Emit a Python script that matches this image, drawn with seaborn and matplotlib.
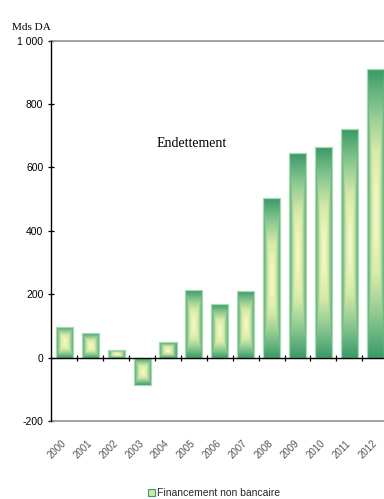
import numpy as np
import matplotlib
matplotlib.use("Agg")
import matplotlib.pyplot as plt
from matplotlib.colors import LinearSegmentedColormap
from matplotlib.patches import Patch
from matplotlib.ticker import FixedLocator, FuncFormatter
import seaborn as sns

# Financement non bancaire, Mds DA
years = ["2000", "2001", "2002", "2003", "2004", "2005", "2006",
         "2007", "2008", "2009", "2010", "2011", "2012"]
values = [98, 76, 25, -85, 50, 212, 168, 209, 503, 645, 665, 721, 910]
y_ticks = [-200, 0, 200, 400, 600, 800, 1000]

sns.set_theme(style="white")
plt.rcParams["font.family"] = ["Liberation Sans", "DejaVu Sans"]

fig = plt.figure(figsize=(3.84, 4.99), dpi=100, facecolor="white")
ax = fig.add_axes([0.1328, 0.1563, 0.8672, 0.7625])
ax.set_facecolor("white")

sns.barplot(x=years, y=values, width=0.66, color="#3d9b6b", saturation=1,
            errorbar=None, ax=ax, zorder=2)

# path gradient fill: pale yellow core fading to green at the edges
cmap = LinearSegmentedColormap.from_list(
    "fin", ["#f8f8c6", "#d6eaa8", "#86c58e", "#3a9a69"])
n = 200
gx = np.abs(np.linspace(-1, 1, n))[None, :]
gy = np.abs(np.linspace(-1, 1, n))[:, None]
for bar in list(ax.patches):
    x0, y0 = bar.get_x(), bar.get_y()
    w, h = bar.get_width(), bar.get_height()
    ylo, yhi = min(y0, y0 + h), max(y0, y0 + h)
    grad = np.maximum(gx, gy) ** 1.3
    im = ax.imshow(grad, extent=[x0, x0 + w, ylo, yhi], origin="lower",
                   aspect="auto", cmap=cmap, vmin=0, vmax=1, zorder=2,
                   interpolation="bilinear")
    im.set_clip_path(bar)
    bar.set_facecolor("none")
    bar.set_edgecolor("#a9dbb2")
    bar.set_linewidth(0.9)
    bar.set_zorder(3)

ax.set_xlim(-0.52, 12.34)
ax.set_ylim(-200, 1000)
ax.set_xlabel("")
ax.set_ylabel("")

# y axis
ax.set_yticks(y_ticks)
ax.yaxis.set_major_formatter(FuncFormatter(
    lambda v, p: f"{int(v):,}".replace(",", " ")))
ax.tick_params(axis="y", which="major", direction="inout", length=5,
               width=0.9, color="black", labelsize=7.5, pad=3,
               labelcolor="black", left=True)

# year labels along the bottom
ax.tick_params(axis="x", which="major", length=0, labelsize=7, pad=15,
               labelcolor="#555555")
for lab in ax.get_xticklabels():
    lab.set_rotation(45)
    lab.set_ha("right")
    lab.set_va("center")
    lab.set_rotation_mode("anchor")

for side in ["top", "bottom"]:
    ax.spines[side].set_visible(True)
    ax.spines[side].set_color("#9a9a9a")
    ax.spines[side].set_linewidth(1.3)
ax.spines["right"].set_visible(False)
ax.spines["left"].set_color("black")
ax.spines["left"].set_linewidth(1.0)
ax.spines["left"].set_zorder(5)

# zero line with category separators
zero = ax.secondary_xaxis(0, transform=ax.transData)
zero.spines["bottom"].set_color("black")
zero.spines["bottom"].set_linewidth(1.0)
zero.xaxis.set_major_locator(FixedLocator(np.arange(len(years)) + 0.5))
zero.tick_params(axis="x", direction="inout", length=5, width=0.9,
                 color="black", labelbottom=False)
zero.set_zorder(4)

fig.text(0.031, 0.944, "Mds DA", family=["Liberation Serif", "DejaVu Serif"],
         fontsize=8, color="black", va="center", ha="left")
ax.text(4.9, 675, "Endettement", family=["Liberation Serif", "DejaVu Serif"],
        fontsize=10, color="black", ha="center", va="center")

handle = Patch(facecolor="#cfe8a8", edgecolor="#3a9a69", linewidth=0.8)
fig.legend(handles=[handle], labels=["Financement non bancaire"],
           loc="center", bbox_to_anchor=(0.557, 0.012), frameon=False,
           fontsize=7.5, handlelength=0.7, handleheight=0.7,
           handletextpad=0.2, borderpad=0, borderaxespad=0)

fig.savefig("out.png", dpi=100, facecolor="white")
